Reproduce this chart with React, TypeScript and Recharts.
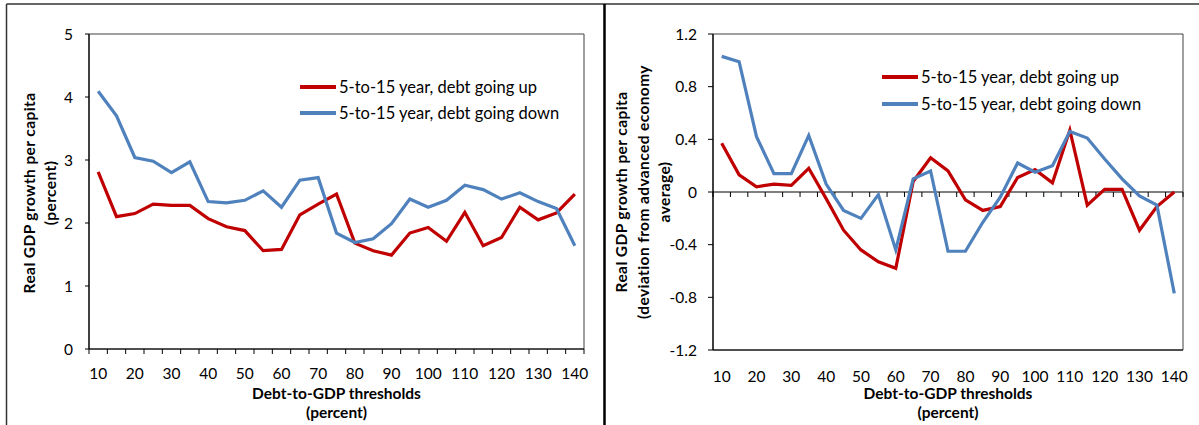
import React from 'react';
import { LineChart, Line, XAxis, YAxis, ReferenceLine, ReferenceArea, Legend } from 'recharts';

// ---------- data ----------
const thresholds = [10, 15, 20, 25, 30, 35, 40, 45, 50, 55, 60, 65, 70, 75, 80, 85, 90, 95, 100, 105, 110, 115, 120, 125, 130, 135, 140];
const xLabelValues = [10, 20, 30, 40, 50, 60, 70, 80, 90, 100, 110, 120, 130, 140];

const levelUp = [2.81, 2.1, 2.15, 2.3, 2.28, 2.28, 2.07, 1.94, 1.88, 1.56, 1.58, 2.13, 2.3, 2.46, 1.68, 1.56, 1.49, 1.84, 1.93, 1.71, 2.17, 1.64, 1.77, 2.25, 2.05, 2.16, 2.46];
const levelDown = [4.09, 3.7, 3.04, 2.98, 2.8, 2.97, 2.34, 2.32, 2.36, 2.51, 2.25, 2.68, 2.72, 1.84, 1.69, 1.75, 1.99, 2.38, 2.25, 2.36, 2.6, 2.53, 2.38, 2.48, 2.34, 2.23, 1.64];

const devUp = [0.37, 0.13, 0.04, 0.06, 0.05, 0.18, -0.05, -0.29, -0.44, -0.53, -0.58, 0.08, 0.26, 0.16, -0.06, -0.14, -0.11, 0.11, 0.17, 0.07, 0.47, -0.1, 0.02, 0.02, -0.29, -0.11, 0.0];
const devDown = [1.03, 0.99, 0.42, 0.14, 0.14, 0.43, 0.06, -0.14, -0.2, -0.02, -0.44, 0.1, 0.16, -0.45, -0.45, -0.23, -0.04, 0.22, 0.15, 0.2, 0.46, 0.41, 0.25, 0.1, -0.03, -0.1, -0.77];

const leftYTicks = [0, 1, 2, 3, 4, 5];
const rightYTicks = [-1.2, -0.8, -0.4, 0, 0.4, 0.8, 1.2];
const seriesNames = ['5-to-15 year, debt going up', '5-to-15 year, debt going down'];
const xTitle = ['Debt-to-GDP thresholds', '(percent)'];
const leftYTitle = ['Real GDP growth per capita', '(percent)'];
const rightYTitle = ['Real GDP growth per capita', '(deviation from advanced  economy', 'average)'];

const boundaryTicks = [...thresholds.map((t) => t - 2.5), thresholds[thresholds.length - 1] + 2.5];

const leftData = thresholds.map((t, i) => ({ x: t, up: levelUp[i], down: levelDown[i] }));
const rightData = thresholds.map((t, i) => ({ x: t, up: devUp[i], down: devDown[i] }));

// ---------- styles ----------
const FONT = 'Lato, "Open Sans", sans-serif';
const RED = '#C00000';
const BLUE = '#4F81BD';

const makeXTick = (half: number) => (props: any) => {
  const { x, y, payload } = props;
  const center = payload.value + 2.5;
  if (!xLabelValues.includes(center)) return <g />;
  return (
    <text x={x + half} y={y} dy="0.71em" textAnchor="middle" fontSize={15.5} fill="#000" fontFamily={FONT}>
      {center}
    </text>
  );
};

const makeLegend = (rowH: number) => (props: any) => {
  const payload = [...(props.payload || [])].sort(
    (a: any, b: any) => seriesNames.indexOf(a.value) - seriesNames.indexOf(b.value)
  );
  return (
    <div style={{ fontFamily: FONT, fontSize: 16.5, color: '#000' }}>
      {payload.map((entry: any, i: number) => (
        <div key={i} style={{ display: 'flex', alignItems: 'center', height: rowH, whiteSpace: 'nowrap' }}>
          <svg width={36} height={8} style={{ display: 'block' }}>
            <line x1={0} y1={4} x2={36} y2={4} stroke={entry.color} strokeWidth={4} />
          </svg>
          <span style={{ marginLeft: 3 }}>{entry.value}</span>
        </div>
      ))}
    </div>
  );
};

const zeroAxisShape = (props: any) => {
  const { x1, y1, x2, y2 } = props;
  const n = thresholds.length;
  const step = (x2 - x1) / n;
  const marks = [];
  for (let k = 0; k <= n; k++) {
    marks.push(<line key={k} x1={x1 + k * step} x2={x1 + k * step} y1={y1} y2={y1 + 5} stroke="#000" strokeWidth={1} />);
  }
  return (
    <g>
      <line x1={x1} y1={y1} x2={x2} y2={y2} stroke="#000" strokeWidth={1.2} />
      {marks}
    </g>
  );
};

const fmtDev = (v: number) => (v === 0 ? '0' : v.toFixed(1));

const LeftChart = () => (
  <LineChart width={600} height={425} data={leftData} margin={{ top: 34, right: 16, bottom: 0, left: 0 }}>
    <ReferenceArea x1={7.5} x2={142.5} y1={0} y2={5} fill="none" stroke="#404040" strokeWidth={1} ifOverflow="visible" />
    <XAxis
      dataKey="x"
      type="number"
      domain={[7.5, 142.5]}
      ticks={boundaryTicks}
      interval={0}
      height={76}
      tickSize={5}
      tickMargin={14}
      axisLine={{ stroke: '#000', strokeWidth: 1.2 }}
      tickLine={{ stroke: '#000' }}
      tick={makeXTick(495 / 27 / 2)}
    />
    <YAxis
      domain={[0, 5]}
      ticks={leftYTicks}
      width={89}
      tickSize={4}
      tickMargin={12}
      axisLine={{ stroke: '#000', strokeWidth: 1.2 }}
      tickLine={{ stroke: '#000' }}
      tick={{ fontSize: 15.5, fill: '#000', fontFamily: FONT }}
    />
    <Legend
      layout="vertical"
      align="center"
      verticalAlign="middle"
      content={makeLegend(26)}
      wrapperStyle={{ left: 300, top: 74, width: 'auto' }}
    />
    <Line type="linear" dataKey="up" name={seriesNames[0]} stroke={RED} strokeWidth={3.2} dot={false} isAnimationActive={false} />
    <Line type="linear" dataKey="down" name={seriesNames[1]} stroke={BLUE} strokeWidth={3.2} dot={false} isAnimationActive={false} />
  </LineChart>
);

const RightChart = () => (
  <LineChart width={599} height={425} data={rightData} margin={{ top: 34, right: 16, bottom: 0, left: 0 }}>
    <ReferenceArea x1={7.5} x2={142.5} y1={-1.2} y2={1.2} fill="none" stroke="#404040" strokeWidth={1} ifOverflow="visible" />
    <XAxis
      dataKey="x"
      type="number"
      domain={[7.5, 142.5]}
      ticks={boundaryTicks}
      interval={0}
      height={75}
      tickSize={5}
      tickMargin={16}
      axisLine={{ stroke: '#000', strokeWidth: 1.2 }}
      tickLine={false}
      tick={makeXTick(470 / 27 / 2)}
    />
    <YAxis
      domain={[-1.2, 1.2]}
      ticks={rightYTicks}
      width={113}
      tickSize={5}
      tickMargin={11}
      tickFormatter={fmtDev}
      axisLine={{ stroke: '#000', strokeWidth: 1.2 }}
      tickLine={{ stroke: '#000' }}
      tick={{ fontSize: 15.5, fill: '#000', fontFamily: FONT }}
    />
    <ReferenceLine y={0} shape={zeroAxisShape} />
    <Legend
      layout="vertical"
      align="center"
      verticalAlign="middle"
      content={makeLegend(27)}
      wrapperStyle={{ left: 282, top: 63.5, width: 'auto' }}
    />
    <Line type="linear" dataKey="up" name={seriesNames[0]} stroke={RED} strokeWidth={3.2} dot={false} isAnimationActive={false} />
    <Line type="linear" dataKey="down" name={seriesNames[1]} stroke={BLUE} strokeWidth={3.2} dot={false} isAnimationActive={false} />
  </LineChart>
);

const titleStyle = { fontFamily: FONT, fontWeight: 700, fontSize: 15.5, fill: '#000' } as const;

export default function App() {
  return (
    <div style={{ position: 'absolute', left: 0, top: 0, width: 1199, height: 425, background: '#fff', overflow: 'hidden' }}>
      <div style={{ position: 'absolute', left: 0, top: 0 }}>
        <LeftChart />
      </div>
      <div style={{ position: 'absolute', left: 600, top: 0 }}>
        <RightChart />
      </div>
      <svg width={1199} height={425} style={{ position: 'absolute', left: 0, top: 0, pointerEvents: 'none' }}>
        <line x1={6.5} y1={4} x2={1199} y2={4} stroke="#333" strokeWidth={1.5} />
        <line x1={6.5} y1={4} x2={6.5} y2={425} stroke="#333" strokeWidth={1.5} />
        <line x1={604.5} y1={4} x2={604.5} y2={425} stroke="#000" strokeWidth={2.5} />
        {/* x-axis titles */}
        <text x={336.5} y={399} textAnchor="middle" {...titleStyle}>{xTitle[0]}</text>
        <text x={336.5} y={418} textAnchor="middle" {...titleStyle}>{xTitle[1]}</text>
        <text x={948} y={399} textAnchor="middle" {...titleStyle}>{xTitle[0]}</text>
        <text x={948} y={418} textAnchor="middle" {...titleStyle}>{xTitle[1]}</text>
        {/* y-axis titles */}
        {leftYTitle.map((t, i) => (
          <text key={i} x={0} y={0} transform={`translate(${29 + i * 21},193) rotate(-90)`} textAnchor="middle" dominantBaseline="central" letterSpacing={0.4} {...titleStyle}>
            {t}
          </text>
        ))}
        {rightYTitle.map((t, i) => (
          <text key={i} x={0} y={0} transform={`translate(${621 + i * 21.5},192) rotate(-90)`} textAnchor="middle" dominantBaseline="central" letterSpacing={0.4} {...titleStyle}>
            {t}
          </text>
        ))}
      </svg>
    </div>
  );
}
